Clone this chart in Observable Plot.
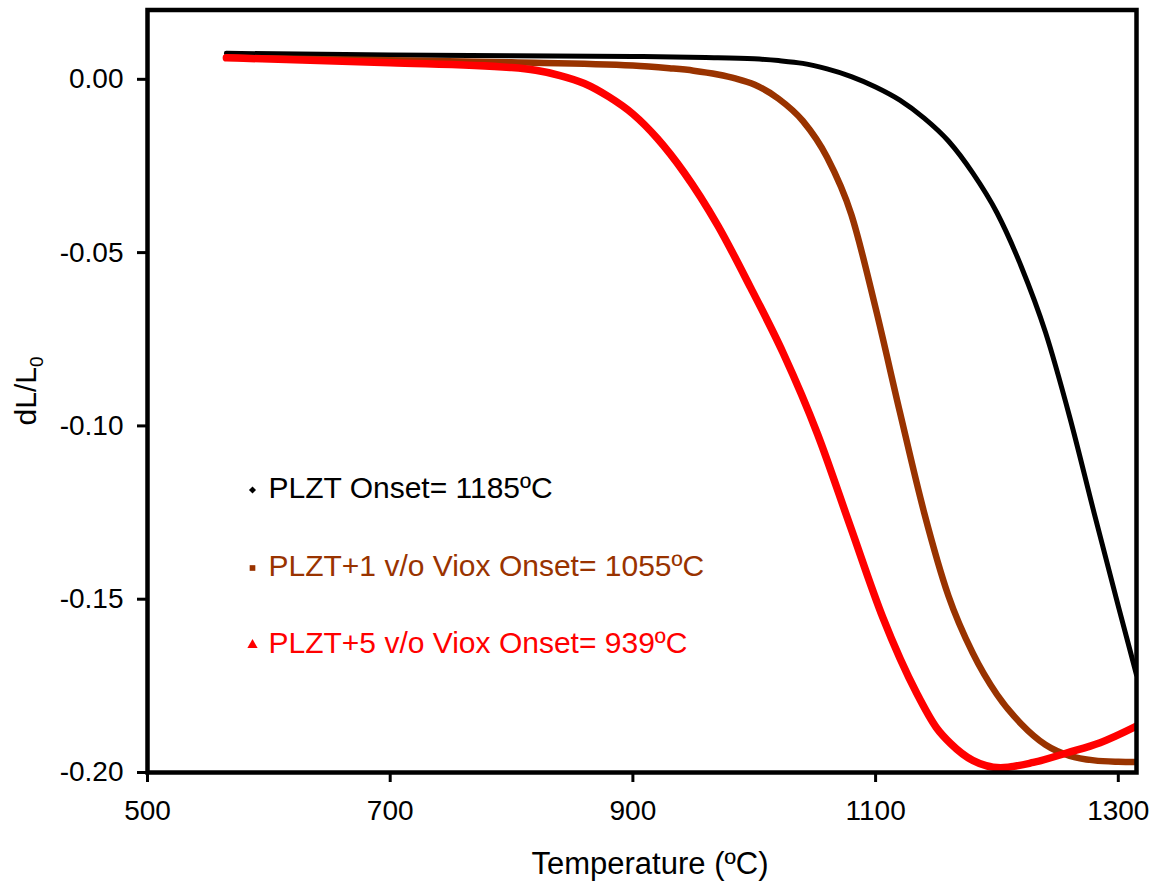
<!DOCTYPE html>
<html>
<head>
<meta charset="utf-8">
<script src="https://cdn.jsdelivr.net/npm/d3@7"></script>
<script src="https://cdn.jsdelivr.net/npm/@observablehq/plot@0.6"></script>
<style>
  html, body { margin: 0; padding: 0; background: #fff; }
  #chart svg { display: block; }
</style>
</head>
<body>
<div id="chart"></div>
<script>
// Temperatures (°C) and dL/L0 values
const plztT = [565, 700, 800, 900, 960, 1000, 1020, 1040, 1060, 1080, 1100, 1120, 1140, 1160, 1180, 1200, 1220, 1240, 1260, 1280, 1300, 1315];
const plztV = [0.0075, 0.0070, 0.0068, 0.0066, 0.0063, 0.0059, 0.0054, 0.0046, 0.0030, 0.0008, -0.0022, -0.0060, -0.0112, -0.0178, -0.0270, -0.0385, -0.0540, -0.0730, -0.0975, -0.1250, -0.1520, -0.1718];

const plzt1T = [565, 700, 800, 900, 930, 950, 970, 985, 1000, 1020, 1040, 1060, 1080, 1100, 1120, 1140, 1160, 1180, 1200, 1220, 1240, 1260, 1280, 1300, 1315];
const plzt1V = [0.0062, 0.0055, 0.0049, 0.0040, 0.0032, 0.0025, 0.0014, 0.0002, -0.0015, -0.0056, -0.0120, -0.0225, -0.0390, -0.0660, -0.0960, -0.1250, -0.1490, -0.1655, -0.1775, -0.1860, -0.1920, -0.1952, -0.1965, -0.1969, -0.1970];

const plzt5T = [565, 700, 800, 820, 840, 860, 880, 900, 920, 942, 970, 997, 1024, 1052, 1079, 1106, 1134, 1150, 1162, 1180, 1203, 1230, 1258, 1285, 1315];
const plzt5V = [0.0062, 0.0048, 0.0034, 0.0026, 0.0011, -0.0012, -0.0050, -0.0100, -0.0170, -0.0268, -0.0422, -0.0601, -0.0791, -0.1022, -0.1288, -0.1553, -0.1772, -0.1870, -0.1917, -0.1965, -0.1986, -0.1971, -0.1943, -0.1914, -0.1866];

const seriesNames = ["PLZT Onset= 1185ºC", "PLZT+1 v/o Viox Onset= 1055ºC", "PLZT+5 v/o Viox Onset= 939ºC"];
const seriesColors = ["#000000", "#993300", "#ff0000"];
const seriesSymbols = ["diamond2", "square", "triangle"];
const xTicks = [500, 700, 900, 1100, 1300];
const yTicks = [0, -0.05, -0.10, -0.15, -0.20];
const xTitle = "Temperature (ºC)";

const toRows = (T, V) => T.map((t, i) => ({t, v: V[i]}));
const series = [toRows(plztT, plztV), toRows(plzt1T, plzt1V), toRows(plzt5T, plzt5V)];
const widths = [5, 6.5, 7.5];

const W = 1153, H = 882;
const mL = 147, mR = 17, mT = 9.5, mB = 110;
const font = "'Liberation Sans', Arial, sans-serif";

const legendRowsDy = [478, 556, 633];  // offsets from frame top
const legendMarks = [];
seriesNames.forEach((name, i) => {
  legendMarks.push(Plot.dot([name], {frameAnchor: "top-left", dx: 105, dy: legendRowsDy[i] + 2, symbol: seriesSymbols[i], r: i === 2 ? 3.8 : 3.2, fill: seriesColors[i], stroke: "none"}));
  legendMarks.push(Plot.text([name], {frameAnchor: "top-left", dx: 121, dy: legendRowsDy[i], text: d => d, fill: seriesColors[i], fontSize: 30, textAnchor: "start", lineAnchor: "middle"}));
});

const plot = Plot.plot({
  width: W,
  height: H,
  marginLeft: mL, marginRight: mR, marginTop: mT, marginBottom: mB,
  style: {fontFamily: font, background: "#fff", overflow: "visible"},
  x: {domain: [500, 1315], ticks: xTicks},
  y: {domain: [-0.2, 0.02], ticks: yTicks},
  marks: [
    ...series.map((s, i) => Plot.line(s, {x: "t", y: "v", stroke: seriesColors[i], strokeWidth: widths[i], curve: "monotone-x", clip: true})),
    Plot.frame({stroke: "#000", strokeWidth: 4.5}),
    Plot.axisX({ticks: xTicks, tickSize: 10, tickPadding: 18, strokeWidth: 3, fontSize: 28, tickFormat: d => String(d), label: null}),
    Plot.axisY({ticks: yTicks, tickSize: 10, tickPadding: 14, strokeWidth: 3, fontSize: 28, tickFormat: d => d.toFixed(2), label: null}),
    Plot.text([xTitle], {frameAnchor: "bottom", dx: 8, dy: 92, text: d => d, fontSize: 31, lineAnchor: "middle", fill: "#000"}),
    ...legendMarks
  ]
});

document.getElementById("chart").appendChild(plot);

// Y axis title with subscript
const svg = d3.select(plot);
const yt = svg.append("text")
  .attr("transform", `translate(36, 391) rotate(-90)`)
  .attr("text-anchor", "middle")
  .attr("font-family", font)
  .attr("font-size", 30)
  .attr("fill", "#000");
yt.append("tspan").text("dL/L");
yt.append("tspan").attr("font-size", 19).attr("dy", 7).text("0");
</script>
</body>
</html>
